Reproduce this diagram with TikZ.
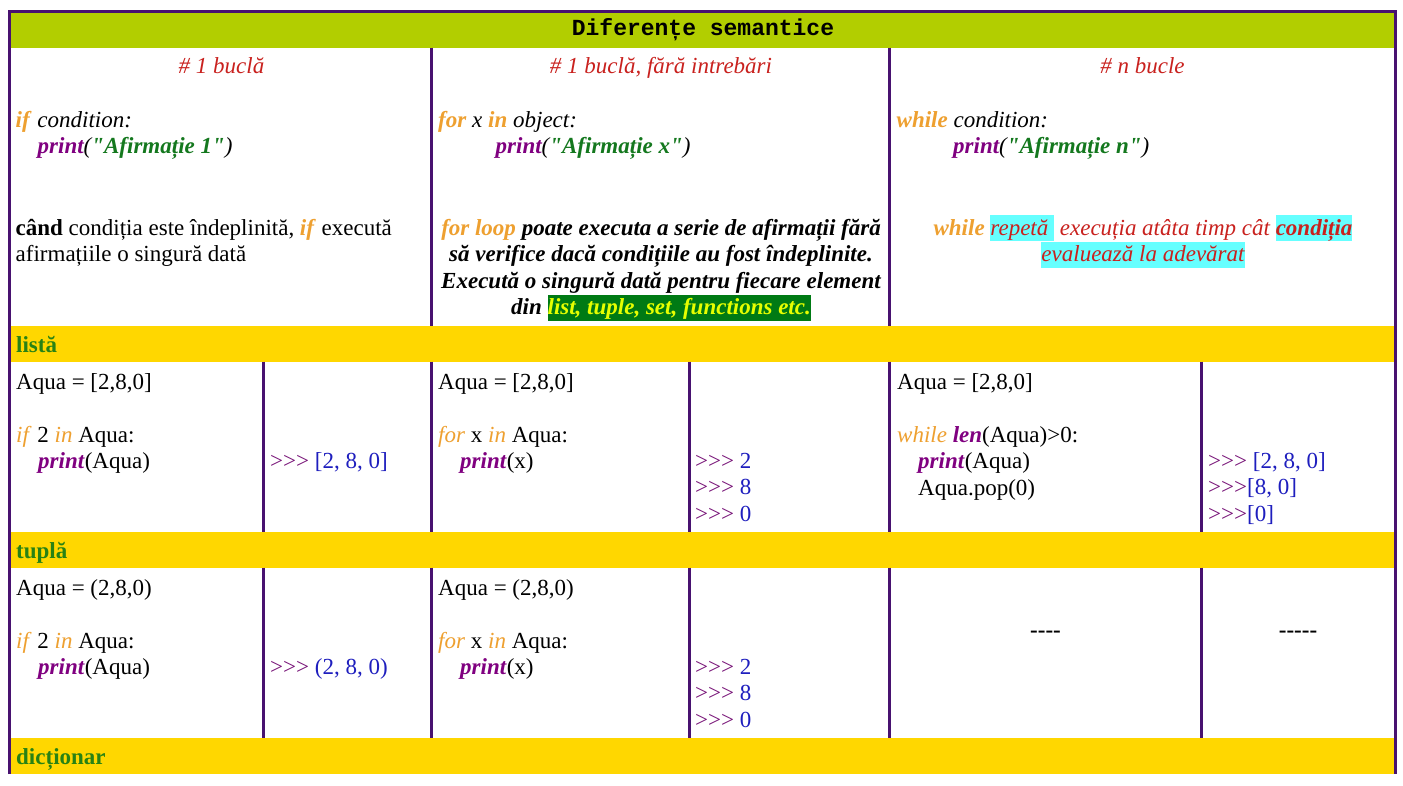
\documentclass[tikz,border=0pt]{standalone}
\usepackage{fontspec}
\setmainfont{Liberation Serif}[Ligatures=TeXOff]
\setmonofont{Liberation Mono}
\usepackage{xcolor}
\usetikzlibrary{positioning}

\definecolor{frame}{RGB}{72,18,112}
\definecolor{titlebar}{RGB}{178,206,0}
\definecolor{sectionbar}{RGB}{255,215,0}
\definecolor{sectiontext}{RGB}{40,130,20}
\definecolor{kworange}{RGB}{238,160,48}
\definecolor{fnpurple}{RGB}{128,0,128}
\definecolor{strgreen}{RGB}{20,120,30}
\definecolor{outpurple}{RGB}{120,20,120}
\definecolor{outblue}{RGB}{30,30,190}
\definecolor{notered}{RGB}{201,33,30}
\definecolor{hlcyan}{RGB}{102,255,255}
\definecolor{hlgreen}{RGB}{0,122,20}
\definecolor{hlyellow}{RGB}{230,255,0}

\newcommand\cellfont{\fontsize{23}{26.5}\selectfont}
\newcommand\firstline{\rule{0pt}{20pt}}
\newcommand\kwb[1]{\textcolor{kworange}{\textbf{\textit{#1}}}}
\newcommand\kwi[1]{\textcolor{kworange}{\textit{#1}}}
\newcommand\fn[1]{\textcolor{fnpurple}{\textbf{\textit{#1}}}}
\newcommand\strlit[1]{\textcolor{strgreen}{\textbf{\textit{#1}}}}
\newcommand\prompt[1]{\textcolor{outpurple}{>>>}\textcolor{outblue}{#1}}
\newcommand\hlbox[2]{{\setlength{\fboxsep}{0pt}\colorbox{#1}{\rule[-6pt]{0pt}{26pt}#2}}}

\begin{document}
\begin{tikzpicture}[x=1pt,y=-1pt,
						cell/.style={anchor=north west,inner sep=0pt,align=left,font=\cellfont},
						note/.style={anchor=north,inner sep=0pt,align=center,font=\cellfont},
						heading/.style={anchor=base,inner sep=0pt,font=\cellfont\itshape,text=notered},
						section/.style={anchor=base west,inner sep=0pt,font=\cellfont\bfseries,text=sectiontext},
						dashes/.style={anchor=base,inner sep=0pt,font=\cellfont\bfseries},
						cellrule/.style={draw=frame,line width=3pt}]

						\useasboundingbox (0,0) rectangle (1403,785);
						\fill[white] (0,0) rectangle (1403,785);

						%%% Bars
						\fill[titlebar] (11,12.5) rectangle (1394,47.7);
						\fill[sectionbar] (11,326) rectangle (1394,361.7);
						\fill[sectionbar] (11,532) rectangle (1394,567.7);
						\fill[sectionbar] (11,738) rectangle (1394,773.7);

						%%% Frame & column rules
						\draw[cellrule] (9.5,774) -- (9.5,11.2) -- (1395.5,11.2) -- (1395.5,774);
						\draw[cellrule] (431.5,47.7) -- (431.5,326) (889.5,47.7) -- (889.5,326);
						\draw[cellrule] (263,361.7) -- (263,532) (431.5,361.7) -- (431.5,532)
							(689,361.7) -- (689,532) (889.5,361.7) -- (889.5,532) (1201,361.7) -- (1201,532);
						\draw[cellrule] (263,567.7) -- (263,738) (431.5,567.7) -- (431.5,738)
							(689,567.7) -- (689,738) (889.5,567.7) -- (889.5,738) (1201,567.7) -- (1201,738);

						%%% Header
						\node[anchor=base,inner sep=0pt,font=\cellfont\ttfamily\bfseries] (title) at (703,35) {Diferențe semantice};
						\node[heading] (headIf) at (221.5,73) {\# 1 buclă};
						\node[heading] (headFor) at (661,73) {\# 1 buclă, fără intrebări};
						\node[heading] (headWhile) at (1142.5,73) {\# n bucle};

						\node[cell] (codeIf) at (15.5,107) {\firstline\kwb{if} \textit{condition:}\\
							\hspace*{22pt}\textit{\fn{print}(\strlit{"Afirmație 1"})}};
						\node[cell] (codeFor) at (438,107) {\firstline\kwb{for} \textit{x} \kwb{in} \textit{object:}\\
							\hspace*{57.5pt}\textit{\fn{print}(\strlit{"Afirmație x"})}};
						\node[cell] (codeWhile) at (896.5,107) {\firstline\kwb{while} \textit{condition:}\\
							\hspace*{56.5pt}\textit{\fn{print}(\strlit{"Afirmație n"})}};

						\node[cell] (noteIf) at (15.5,215) {\firstline\textbf{când} condiția este îndeplinită, \kwb{if} execută\\
							afirmațiile o singură dată};
						\node[note,font=\cellfont\bfseries\itshape] (noteFor) at (661,215) {\firstline\kwb{for loop} poate executa a serie de afirmații fără\\
							să verifice dacă condițiile au fost îndeplinite.\\
							Execută o singură dată pentru fiecare element\\
							din \hlbox{hlgreen}{\textcolor{hlyellow}{list, tuple, set, functions etc.}}};
						\node[note,font=\cellfont\itshape,text=notered] (noteWhile) at (1143,215) {\firstline\kwb{while} \hlbox{hlcyan}{repetă\ }\ execuția atâta timp cât \hlbox{hlcyan}{\textbf{condiția}}\\
							\hlbox{hlcyan}{evaluează la adevărat}};

						%%% listă
						\node[section] (lista) at (16,352) {listă};
						\node[cell] (listIf) at (16,369) {\firstline Aqua = [2,8,0]\\[26.5pt]
							\kwi{if} 2 \kwi{in} Aqua:\\
							\hspace*{22pt}\fn{print}(Aqua)};
						\node[cell] (listIfOut) at (270,448) {\firstline\prompt{\ [2, 8, 0]}};
						\node[cell] (listFor) at (438,369) {\firstline Aqua = [2,8,0]\\[26.5pt]
							\kwi{for} x \kwi{in} Aqua:\\
							\hspace*{22pt}\fn{print}(x)};
						\node[cell] (listForOut) at (695,448) {\firstline\prompt{\ 2}\\\prompt{\ 8}\\\prompt{\ 0}};
						\node[cell] (listWhile) at (897,369) {\firstline Aqua = [2,8,0]\\[26.5pt]
							\kwi{while} \fn{len}(Aqua)>0:\\
							\hspace*{21pt}\fn{print}(Aqua)\\
							\hspace*{21pt}Aqua.pop(0)};
						\node[cell] (listWhileOut) at (1208,448) {\firstline\prompt{\ [2, 8, 0]}\\\prompt{[8, 0]}\\\prompt{[0]}};

						%%% tuplă
						\node[section] (tupla) at (16,558) {tuplă};
						\node[cell] (tupleIf) at (16,575) {\firstline Aqua = (2,8,0)\\[26.5pt]
							\kwi{if} 2 \kwi{in} Aqua:\\
							\hspace*{22pt}\fn{print}(Aqua)};
						\node[cell] (tupleIfOut) at (270,654) {\firstline\prompt{\ (2, 8, 0)}};
						\node[cell] (tupleFor) at (438,575) {\firstline Aqua = (2,8,0)\\[26.5pt]
							\kwi{for} x \kwi{in} Aqua:\\
							\hspace*{22pt}\fn{print}(x)};
						\node[cell] (tupleForOut) at (695,654) {\firstline\prompt{\ 2}\\\prompt{\ 8}\\\prompt{\ 0}};
						\node[dashes] (tupleWhile) at (1045.5,637) {----};
						\node[dashes] (tupleWhileOut) at (1298,637) {-----};

						%%% dicționar
						\node[section] (dictionar) at (16,764) {dicționar};
					\end{tikzpicture}
\end{document}
